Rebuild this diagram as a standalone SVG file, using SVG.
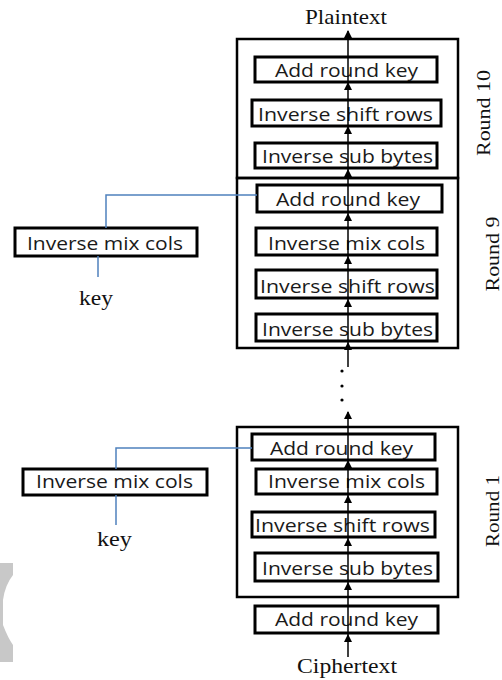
<svg xmlns="http://www.w3.org/2000/svg" width="502" height="680" viewBox="0 0 502 680">
<defs>
<style>
.round{fill:none;stroke:#000;stroke-width:2.5}
.box{fill:#fff;stroke:#000;stroke-width:3}
.lbl{font-family:"Open Sans","Liberation Sans",sans-serif;font-size:18.5px;fill:#1a1a1a}
.ser{font-family:"Liberation Serif","Times New Roman",serif;font-size:19px;fill:#111}
.ser2{font-family:"Liberation Serif","Times New Roman",serif;font-size:21px;fill:#111}
.arr{stroke:#000;stroke-width:1.5;fill:none}
.blue{stroke:#4f81bd;stroke-width:1.5;fill:none}
</style>
<marker id="ah" markerUnits="userSpaceOnUse" markerWidth="8" markerHeight="8" refX="7" refY="4" orient="auto">
<path d="M0,0 L8,4 L0,8 z" fill="#000"/>
</marker>
</defs>
<rect width="502" height="680" fill="#fff"/>
<path d="M0,563 H13 V575 Q5,585 3,600 L3,625 Q8,638 13,645 V662 H0 Z" fill="#c8c8c8"/>

<g id="round10">
<rect class="round" x="237" y="39" width="221" height="139"/>
<text class="ser" transform="translate(490,113) rotate(-90)" text-anchor="middle" textLength="86" lengthAdjust="spacingAndGlyphs">Round 10</text>
</g>
<g id="round9">
<rect class="round" x="237" y="178" width="221" height="170"/>
<text class="ser" transform="translate(499,254) rotate(-90)" text-anchor="middle" textLength="75" lengthAdjust="spacingAndGlyphs">Round 9</text>
</g>
<g id="round1">
<rect class="round" x="237" y="427" width="221" height="170"/>
<text class="ser" transform="translate(499,511) rotate(-90)" text-anchor="middle" textLength="72" lengthAdjust="spacingAndGlyphs">Round 1</text>
</g>

<g id="r10-ark"><rect class="box" x="255" y="57" width="182" height="25"/><text class="lbl" x="275" y="77" textLength="143" lengthAdjust="spacingAndGlyphs">Add round key</text></g>
<g id="r10-isr"><rect class="box" x="252" y="100" width="189" height="26"/><text class="lbl" x="258" y="121" textLength="175" lengthAdjust="spacingAndGlyphs">Inverse shift rows</text></g>
<g id="r10-isb"><rect class="box" x="255" y="143" width="182" height="25"/><text class="lbl" x="262" y="163" textLength="171" lengthAdjust="spacingAndGlyphs">Inverse sub bytes</text></g>

<g id="r9-ark"><rect class="box" x="257" y="185" width="185" height="27"/><text class="lbl" x="276" y="206" textLength="144" lengthAdjust="spacingAndGlyphs">Add round key</text></g>
<g id="r9-imc"><rect class="box" x="256" y="228" width="181" height="27"/><text class="lbl" x="268" y="250" textLength="157" lengthAdjust="spacingAndGlyphs">Inverse mix cols</text></g>
<g id="r9-isr"><rect class="box" x="256" y="270" width="181" height="28"/><text class="lbl" x="260" y="293" textLength="175" lengthAdjust="spacingAndGlyphs">Inverse shift rows</text></g>
<g id="r9-isb"><rect class="box" x="256" y="314" width="181" height="27"/><text class="lbl" x="262" y="336" textLength="171" lengthAdjust="spacingAndGlyphs">Inverse sub bytes</text></g>

<g id="r1-ark"><rect class="box" x="252" y="434" width="183" height="26"/><text class="lbl" x="270" y="455" textLength="143" lengthAdjust="spacingAndGlyphs">Add round key</text></g>
<g id="r1-imc"><rect class="box" x="256" y="469" width="181" height="25"/><text class="lbl" x="268" y="488" textLength="157" lengthAdjust="spacingAndGlyphs">Inverse mix cols</text></g>
<g id="r1-isr"><rect class="box" x="252" y="512" width="183" height="25"/><text class="lbl" x="255" y="532" textLength="175" lengthAdjust="spacingAndGlyphs">Inverse shift rows</text></g>
<g id="r1-isb"><rect class="box" x="255" y="553" width="183" height="28"/><text class="lbl" x="262" y="575" textLength="171" lengthAdjust="spacingAndGlyphs">Inverse sub bytes</text></g>

<g id="init-ark"><rect class="box" x="255" y="606" width="183" height="27"/><text class="lbl" x="275" y="626" textLength="143" lengthAdjust="spacingAndGlyphs">Add round key</text></g>

<g id="k9-imc"><rect class="box" x="15" y="228" width="182" height="28"/><text class="lbl" x="27" y="250" textLength="156" lengthAdjust="spacingAndGlyphs">Inverse mix cols</text></g>
<g id="k1-imc"><rect class="box" x="23" y="469" width="184" height="26"/><text class="lbl" x="36" y="488" textLength="157" lengthAdjust="spacingAndGlyphs">Inverse mix cols</text></g>

<g id="key9"><text class="ser2" x="96" y="305" text-anchor="middle" textLength="34" lengthAdjust="spacingAndGlyphs">key</text></g>
<g id="key1"><text class="ser2" x="114.5" y="546" text-anchor="middle" textLength="35" lengthAdjust="spacingAndGlyphs">key</text></g>
<g id="plaintext"><text class="ser2" x="305" y="24" textLength="82" lengthAdjust="spacingAndGlyphs">Plaintext</text></g>
<g id="ciphertext"><text class="ser2" x="297" y="673" textLength="100" lengthAdjust="spacingAndGlyphs">Ciphertext</text></g>

<g id="connectors">
<line class="arr" x1="348" y1="657" x2="348" y2="635" marker-end="url(#ah)"/>
<line class="arr" x1="348" y1="635" x2="348" y2="583" marker-end="url(#ah)"/>
<line class="arr" x1="348" y1="583" x2="348" y2="539" marker-end="url(#ah)"/>
<line class="arr" x1="348" y1="539" x2="348" y2="496" marker-end="url(#ah)"/>
<line class="arr" x1="348" y1="496" x2="348" y2="461" marker-end="url(#ah)"/>
<line class="arr" x1="348" y1="461" x2="348" y2="412" marker-end="url(#ah)"/>
<line class="arr" x1="348" y1="367" x2="348" y2="343" marker-end="url(#ah)"/>
<line class="arr" x1="348" y1="343" x2="348" y2="300" marker-end="url(#ah)"/>
<line class="arr" x1="348" y1="300" x2="348" y2="257" marker-end="url(#ah)"/>
<line class="arr" x1="348" y1="257" x2="348" y2="214" marker-end="url(#ah)"/>
<line class="arr" x1="348" y1="214" x2="348" y2="170" marker-end="url(#ah)"/>
<line class="arr" x1="348" y1="170" x2="348" y2="127" marker-end="url(#ah)"/>
<line class="arr" x1="348" y1="127" x2="348" y2="83" marker-end="url(#ah)"/>
<line class="arr" x1="348" y1="83" x2="348" y2="31" marker-end="url(#ah)"/>
<circle cx="342" cy="371" r="1.6" fill="#000"/>
<circle cx="342" cy="386" r="1.6" fill="#000"/>
<circle cx="342" cy="400" r="1.6" fill="#000"/>
<path class="blue" d="M106,228 V195 H257"/>
<path class="blue" d="M98,256 V277"/>
<path class="blue" d="M116,469 V448 H252"/>
<path class="blue" d="M116,495 V525"/>
</g>
</svg>
